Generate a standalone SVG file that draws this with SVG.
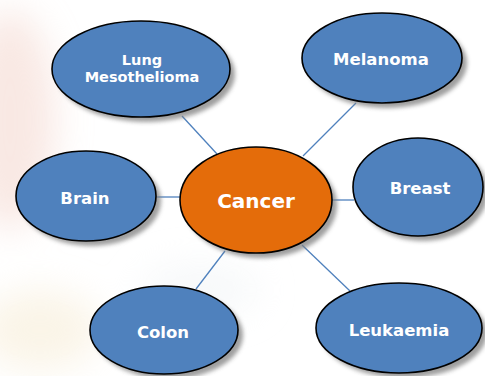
<svg xmlns="http://www.w3.org/2000/svg" width="485" height="376" viewBox="0 0 485 376">
  <defs>
    <filter id="sh" x="-20%" y="-20%" width="150%" height="150%">
      <feGaussianBlur stdDeviation="2.2"/>
    </filter>
    <filter id="bgblur" x="-50%" y="-50%" width="200%" height="200%">
      <feGaussianBlur stdDeviation="18"/>
    </filter>
    <style>
      .node { fill: #4f81bd; stroke: #000; stroke-width: 1.6; }
      .hub { fill: #e46c0a; stroke: #000; stroke-width: 1.6; }
      .shadow { fill: #7f7f7f; opacity: 0.75; filter: url(#sh); }
      .lbl { font-family: "DejaVu Sans", Verdana, sans-serif; font-weight: bold; font-size: 16.5px; fill: #fff; text-anchor: middle; }
      .small { font-size: 14.5px; }
      .big { font-size: 20px; }
      .conn line { stroke: #4f81bd; stroke-width: 1.3; }
    </style>
  </defs>
  <rect width="485" height="376" fill="#fff"/>
  <g filter="url(#bgblur)" opacity="0.5">
    <ellipse cx="10" cy="120" rx="45" ry="110" fill="#f3d2c8"/>
    <ellipse cx="40" cy="330" rx="60" ry="40" fill="#f6ead0"/>
    <ellipse cx="200" cy="290" rx="60" ry="25" fill="#eef2f4"/>
  </g>
  <g class="conn">
    <line x1="182" y1="116" x2="217" y2="154"/>
    <line x1="356" y1="103" x2="303" y2="156"/>
    <line x1="155" y1="197" x2="181" y2="197"/>
    <line x1="331" y1="200" x2="354" y2="200"/>
    <line x1="225" y1="251" x2="196" y2="289"/>
    <line x1="302" y1="245" x2="350" y2="291"/>
  </g>
  <g id="lung">
    <ellipse class="shadow" cx="146" cy="74" rx="89" ry="48"/>
    <ellipse class="node" cx="141" cy="69" rx="89" ry="48"/>
    <text class="lbl small" x="142" y="65">Lung</text>
    <text class="lbl small" x="142" y="82">Mesothelioma</text>
  </g>
  <g id="melanoma">
    <ellipse class="shadow" cx="387" cy="63" rx="80" ry="45"/>
    <ellipse class="node" cx="382" cy="58" rx="80" ry="45"/>
    <text class="lbl" x="381" y="65">Melanoma</text>
  </g>
  <g id="brain">
    <ellipse class="shadow" cx="91" cy="201" rx="70" ry="45"/>
    <ellipse class="node" cx="86" cy="196" rx="70" ry="45"/>
    <text class="lbl" x="85" y="204">Brain</text>
  </g>
  <g id="breast">
    <ellipse class="shadow" cx="423" cy="192" rx="65" ry="49"/>
    <ellipse class="node" cx="418" cy="187" rx="65" ry="49"/>
    <text class="lbl" x="420" y="194">Breast</text>
  </g>
  <g id="cancer">
    <ellipse class="shadow" cx="261" cy="205" rx="76" ry="53"/>
    <ellipse class="hub" cx="256" cy="200" rx="76" ry="53"/>
    <text class="lbl big" x="256" y="208">Cancer</text>
  </g>
  <g id="colon">
    <ellipse class="shadow" cx="169" cy="335" rx="74" ry="44"/>
    <ellipse class="node" cx="164" cy="330" rx="74" ry="44"/>
    <text class="lbl" x="163" y="338">Colon</text>
  </g>
  <g id="leukaemia">
    <ellipse class="shadow" cx="404" cy="333" rx="83" ry="45"/>
    <ellipse class="node" cx="399" cy="328" rx="83" ry="45"/>
    <text class="lbl" x="399" y="336">Leukaemia</text>
  </g>
</svg>
